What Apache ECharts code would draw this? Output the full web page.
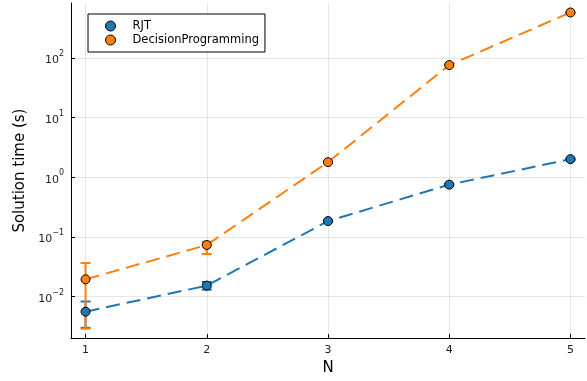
<!DOCTYPE html>
<html><head><meta charset="utf-8">
<script src="https://cdn.jsdelivr.net/npm/echarts@6/dist/echarts.min.js"></script>
<style>html,body{margin:0;padding:0;background:#fff}#c{width:587px;height:381px}</style>
</head><body><div id="c"></div>
<script>
const N = [1, 2, 3, 4, 5];
const rjtTime = [0.0056, 0.0153, 0.185, 0.755, 2.02];
const rjtLow  = [0.0030, 0.0131, 0.178, 0.735, 1.97];
const rjtHigh = [0.0083, 0.0176, 0.192, 0.775, 2.07];
const dpTime  = [0.0195, 0.0735, 1.80, 76.4, 582];
const dpLow   = [0.0029, 0.0519, 1.75, 74.5, 570];
const dpHigh  = [0.0366, 0.0834, 1.85, 78.3, 594];
const yTickExps = [-2, -1, 0, 1, 2];
const xTicks = [1, 2, 3, 4, 5];

const BLUE = '#1f77b4', ORANGE = '#ff7f0e';
const lg = v => Math.log10(v);

function pts(vals) { return N.map((n, i) => [n, lg(vals[i])]); }
function errs(lo, hi) { return N.map((n, i) => [n, lg(lo[i]), lg(hi[i])]); }

function errSeries(name, color, data) {
  return {
    name: name, type: 'custom', z: 2, silent: true,
    encode: { x: 0, y: [1, 2] },
    data: data,
    renderItem: function (params, api) {
      const x = api.value(0), lo = api.value(1), hi = api.value(2);
      const p1 = api.coord([x, lo]), p2 = api.coord([x, hi]);
      const w = 5;
      const style = { stroke: color, lineWidth: 2 };
      return { type: 'group', children: [
        { type: 'line', shape: { x1: p1[0], y1: p1[1], x2: p2[0], y2: p2[1] }, style: style },
        { type: 'line', shape: { x1: p1[0] - w, y1: p1[1], x2: p1[0] + w, y2: p1[1] }, style: style },
        { type: 'line', shape: { x1: p2[0] - w, y1: p2[1], x2: p2[0] + w, y2: p2[1] }, style: style }
      ]};
    }
  };
}

function supLabel(v) {
  const e = Math.round(v);
  const s = e < 0 ? '\u2212' + Math.abs(e) : String(e);
  return '{b|10}{s|' + s + '}';
}

const chart = echarts.init(document.getElementById('c'), null, { renderer: 'canvas' });
chart.setOption({
  animation: false,
  backgroundColor: '#ffffff',
  textStyle: { fontFamily: 'DejaVu Sans' },
  grid: { left: 71, right: 2, top: 3, bottom: 42, containLabel: false },
  legend: {
    orient: 'vertical', left: 88, top: 14,
    data: ['RJT', 'DecisionProgramming'],
    icon: 'circle',
    itemWidth: 34, itemHeight: 10, itemGap: 0,
    padding: [5, 6, 5, 17],
    borderColor: '#000', borderWidth: 1, borderRadius: 0,
    backgroundColor: '#fff',
    textStyle: { fontSize: 11.5, color: '#000', lineHeight: 14, fontFamily: 'DejaVu Sans', padding: [0, 0, 0, 0] },
    itemStyle: { borderColor: '#000', borderWidth: 1 }
  },
  xAxis: {
    type: 'value', min: 0.88, max: 5.12,
    name: 'N', nameLocation: 'middle', nameGap: 22,
    nameTextStyle: { fontSize: 15, color: '#000', fontFamily: 'DejaVu Sans' },
    axisLine: { show: true, onZero: false, lineStyle: { color: '#000', width: 1 } },
    axisTick: { show: true, inside: true, length: 4, customValues: xTicks, lineStyle: { color: '#000' } },
    axisLabel: { customValues: xTicks, fontSize: 11, color: '#222', margin: 7, fontFamily: 'DejaVu Sans' },
    splitLine: { show: true, lineStyle: { color: 'rgba(0,0,0,0.1)', width: 1 } }
  },
  yAxis: {
    type: 'value', min: -2.695, max: 2.924,
    name: 'Solution time (s)', nameLocation: 'middle', nameGap: 42,
    nameTextStyle: { fontSize: 15, color: '#000', fontFamily: 'DejaVu Sans' },
    axisLine: { show: true, onZero: false, lineStyle: { color: '#000', width: 1 } },
    axisTick: { show: true, inside: true, length: 4, customValues: yTickExps, lineStyle: { color: '#000' } },
    axisLabel: {
      customValues: yTickExps, margin: 7, formatter: supLabel,
      rich: {
        b: { fontSize: 11, color: '#222', fontFamily: 'DejaVu Sans', verticalAlign: 'bottom', lineHeight: 16 },
        s: { fontSize: 8, color: '#222', fontFamily: 'DejaVu Sans', verticalAlign: 'top', lineHeight: 16 }
      }
    },
    splitLine: { show: true, lineStyle: { color: 'rgba(0,0,0,0.1)', width: 1 } }
  },
  series: [
    errSeries('RJT-err', BLUE, errs(rjtLow, rjtHigh)),
    { name: 'RJT-line', type: 'line', data: pts(rjtTime), showSymbol: false, symbol: 'none', z: 3, silent: true,
      lineStyle: { color: BLUE, width: 2, type: [14, 7] } },
    errSeries('DP-err', ORANGE, errs(dpLow, dpHigh)),
    { name: 'DP-line', type: 'line', data: pts(dpTime), showSymbol: false, symbol: 'none', z: 3, silent: true,
      lineStyle: { color: ORANGE, width: 2, type: [14, 7] } },
    { name: 'RJT', type: 'scatter', data: pts(rjtTime), symbol: 'circle', symbolSize: 9, z: 5,
      itemStyle: { color: BLUE, borderColor: '#000', borderWidth: 1, opacity: 1 } },
    { name: 'DecisionProgramming', type: 'scatter', data: pts(dpTime), symbol: 'circle', symbolSize: 9, z: 5,
      itemStyle: { color: ORANGE, borderColor: '#000', borderWidth: 1, opacity: 1 } }
  ]
});
</script>
</body></html>
